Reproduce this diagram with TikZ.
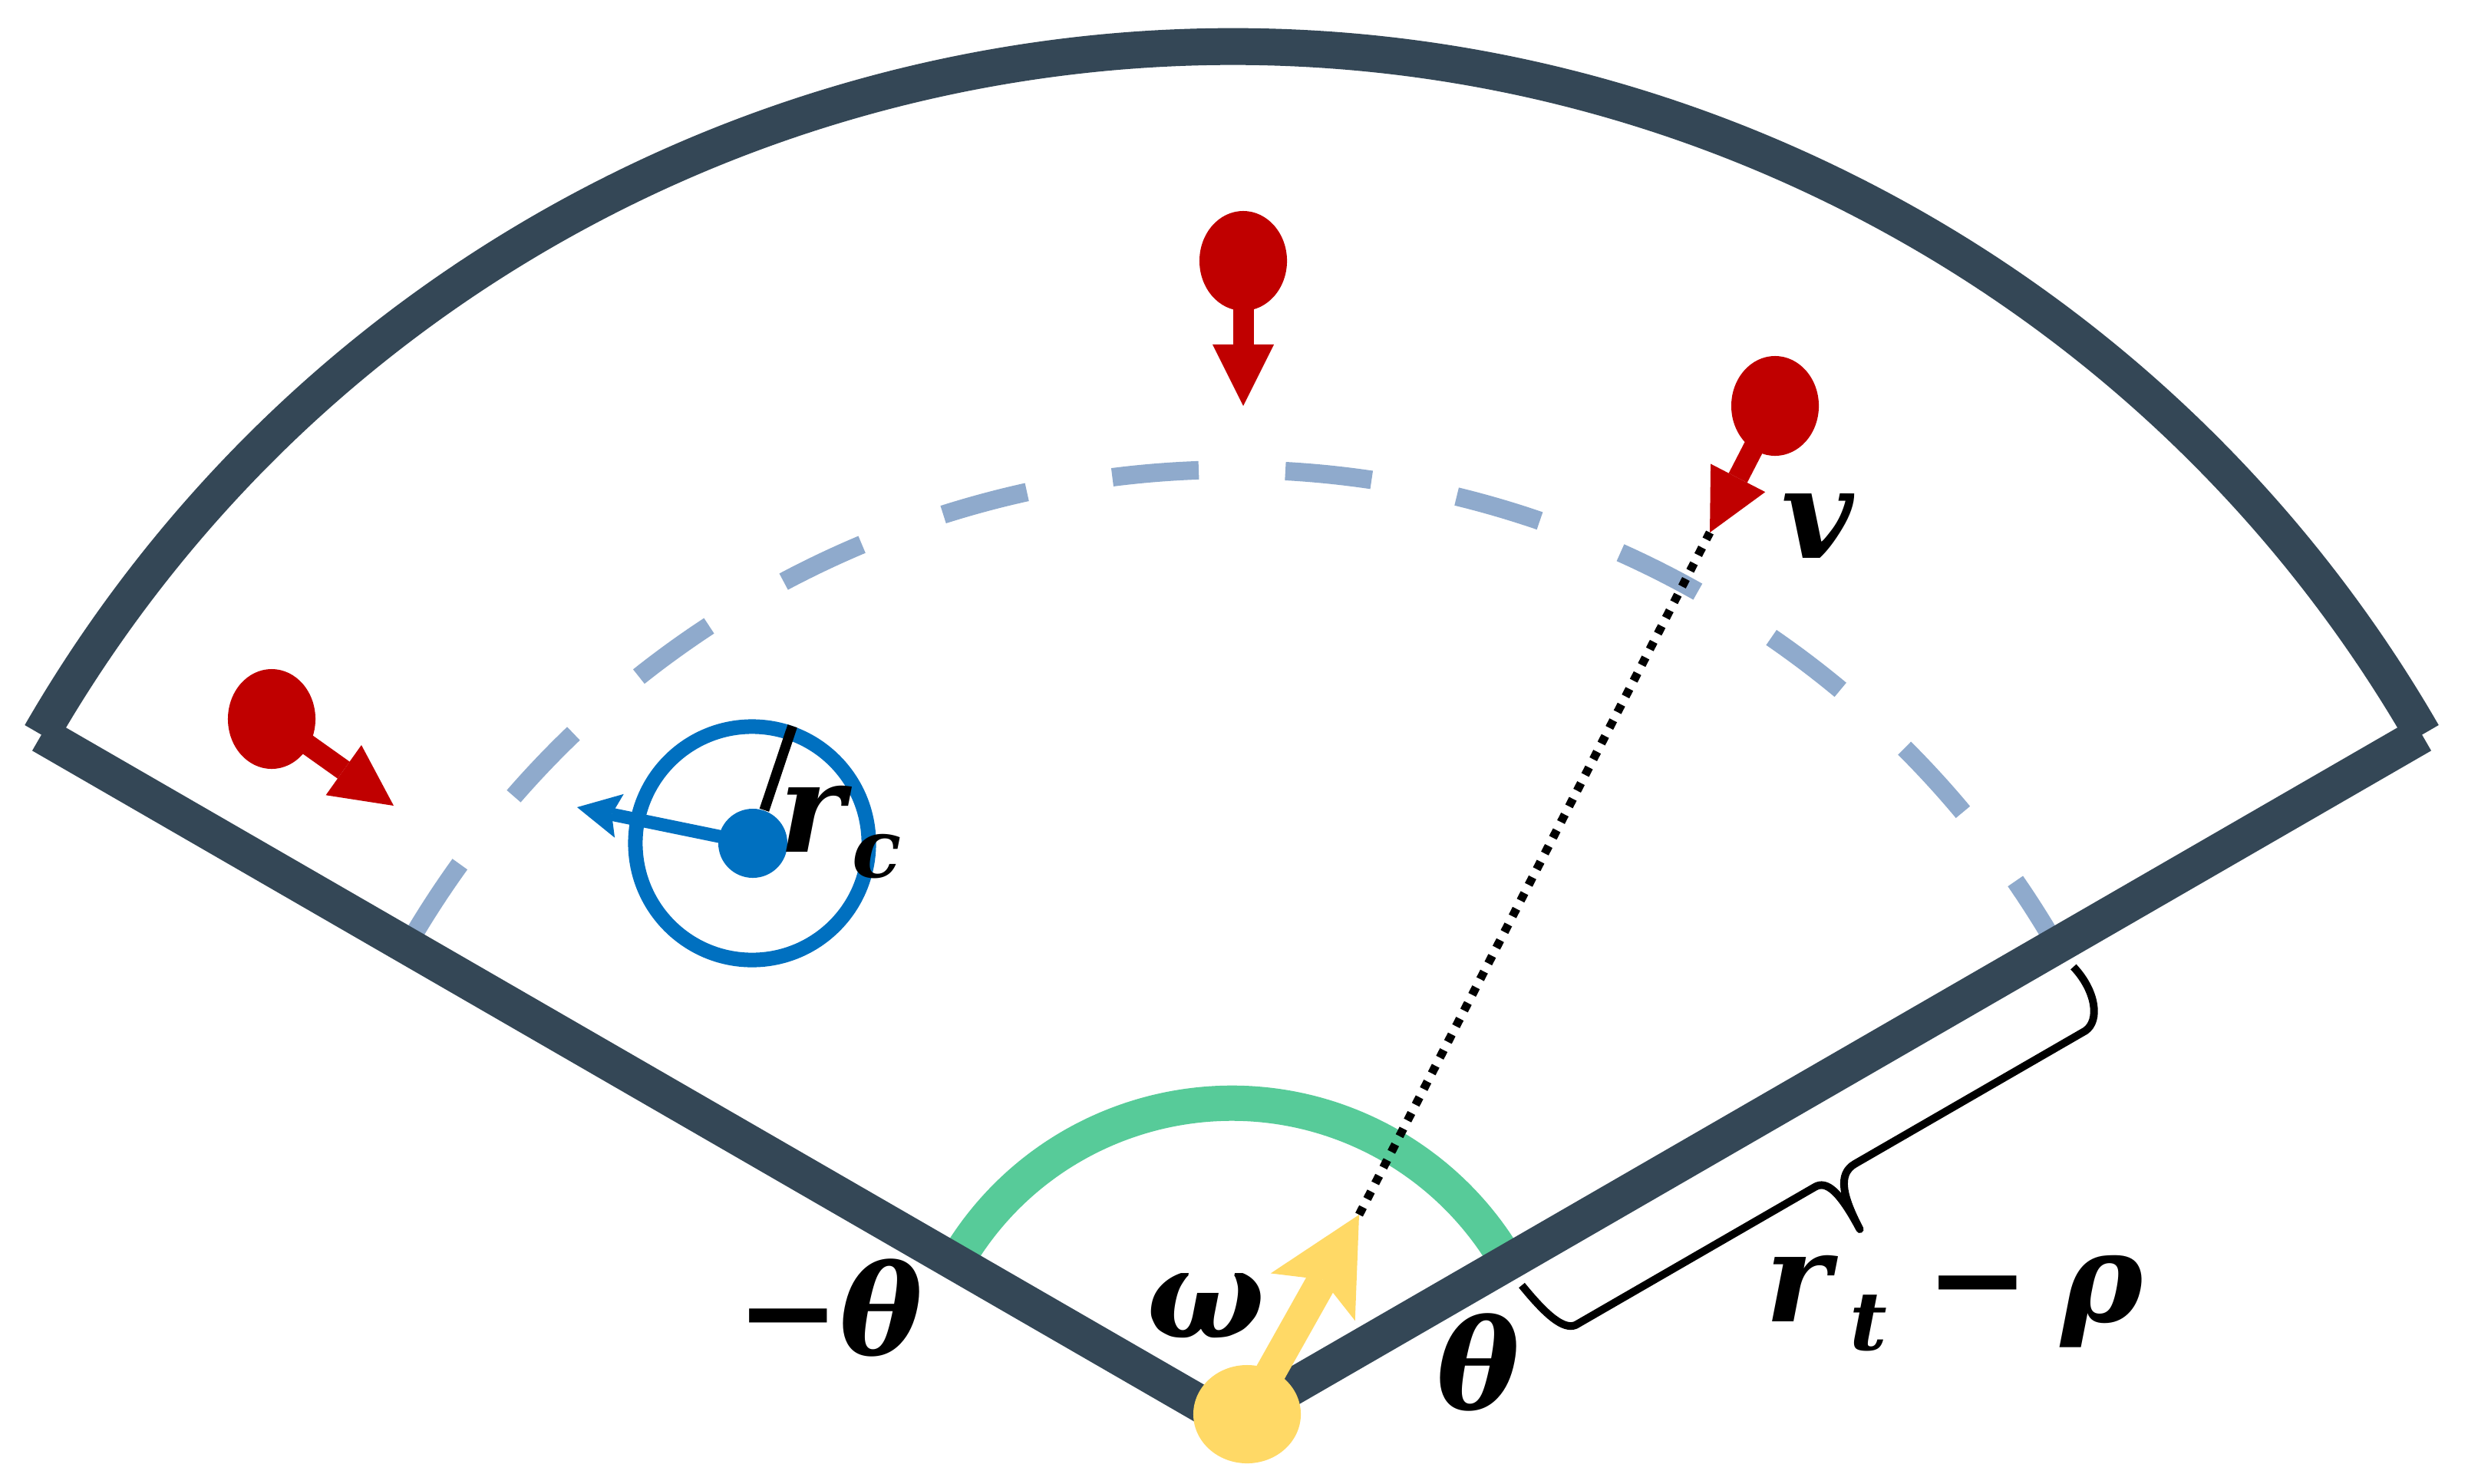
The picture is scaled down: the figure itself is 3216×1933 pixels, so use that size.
\documentclass[tikz,border=0pt]{standalone}
\usepackage{fontspec}
\usetikzlibrary{arrows.meta,shapes.geometric}
\newfontfamily\lblfont{DejaVu Serif}
\definecolor{edgecol}{HTML}{344756}
\definecolor{dashcol}{HTML}{8FAACC}
\definecolor{greencol}{HTML}{57CB99}
\definecolor{redcol}{HTML}{C00000}
\definecolor{bluecol}{HTML}{0070C0}
\definecolor{yelcol}{HTML}{FFD966}
\tikzset{
 edgeline/.style={draw=edgecol, line width=0.48cm, line cap=butt, line join=miter},
 dasharc/.style={draw=dashcol, line width=0.24cm, dash pattern=on 1.129cm off 1.129cm, dash phase=2.12cm},
 greenarc/.style={draw=greencol, line width=0.46cm},
 reddot/.style={ellipse, fill=redcol, minimum width=1.14cm, minimum height=1.30cm, inner sep=0pt},
 redarrow/.style={draw=redcol, line width=0.27cm, -{Triangle[length=0.8cm, width=0.8cm, line width=0pt]}},
 yeldot/.style={ellipse, fill=yelcol, minimum width=1.40cm, minimum height=1.28cm, inner sep=0pt},
 yelarrow/.style={draw=yelcol, line width=0.40cm, -{Stealth[length=1.23cm, width=1.26cm, inset=0.26cm, line width=0pt]}},
 bluering/.style={circle, draw=bluecol, line width=0.19cm, minimum size=3.04cm, inner sep=0pt},
 bluedot/.style={circle, fill=bluecol, minimum size=0.90cm, inner sep=0pt},
 bluearrow/.style={draw=bluecol, line width=0.17cm, -{Stealth[length=0.56cm, width=0.58cm, inset=0.10cm, line width=0pt]}},
 rcline/.style={draw=black, line width=0.13cm},
 dotline/.style={draw=black, line width=0.11cm, dash pattern=on 0.11cm off 0.12cm},
 bracepath/.style={draw=black, line width=0.10cm, line join=round},
 lbl/.style={font=\lblfont\bfseries\itshape\fontsize{46}{52}\selectfont, inner sep=0pt, text=black},
}
\begin{document}
\begin{tikzpicture}[x=0.01cm, y=-0.01cm]
\useasboundingbox (0,0) rectangle (3216,1933);
\coordinate (apex) at (1605,1853);
% dashed guide arc and green angle arc
\draw[dasharc] (apex) ++(150:12.40cm) arc[start angle=150, end angle=30, radius=12.40cm];
\draw[greenarc] (apex) ++(150:4.15cm) arc[start angle=150, end angle=30, radius=4.15cm];
% sector outline
\coordinate (lend) at (54,957.5);
\coordinate (rend) at (3156,957.5);
\draw[edgeline] (apex) ++(150:17.91cm) arc[start angle=150, end angle=30, radius=17.91cm];
\draw[edgeline] (lend) -- (apex) -- (rend);
% brace
\draw[bracepath] (1983,1675) .. controls (2014.9,1714.3) and (2037.6,1733.5) .. (2053.3,1726.8)
  -- (2365.1,1546.8) .. controls (2379.8,1538.3) and (2396.7,1551.6) .. (2423.5,1602)
  .. controls (2401.7,1560.3) and (2393.6,1530.3) .. (2417,1516.8)
  -- (2717.5,1343.3) .. controls (2736.5,1330) and (2731.4,1291.4) .. (2701.8,1260);
% blue agent
\node[bluering] (ring) at (980,1099) {};
\node[bluedot] (bdot) at (981,1099) {};
\coordinate (btip) at (752,1052);
\draw[bluearrow] (bdot.center) -- (btip);
\draw[rcline] (bdot.71.5) -- (ring.71.5);
% red obstacles
\node[reddot] (rd1) at (1620,340) {};
\coordinate (rt1) at (1620,529);
\draw[redarrow] (rd1.center) -- (rt1);
\node[reddot] (rd2) at (354,937) {};
\coordinate (rt2) at (513,1050);
\draw[redarrow] (rd2.center) -- (rt2);
\node[reddot] (rd3) at (2313,529) {};
\coordinate (rt3) at (2228,694);
\draw[redarrow] (rd3.center) -- (rt3);
% yellow robot
\coordinate (ytip) at (1771,1583);
\draw[dotline] (ytip) -- (rt3);
\node[yeldot] (yd) at (1625,1843) {};
\draw[yelarrow] (yd.center) -- (ytip);
% labels
\node[lbl, anchor=base] (lmt) at (1081,1765) {−θ};
\node[lbl, anchor=base] (lt) at (1926,1836) {θ};
\node[lbl, anchor=base] (lw) at (1571,1743) {ω};
\node[lbl, anchor=base] (lv) at (2368,727) {v};
\node[lbl, anchor=base west] (lrc) at (1015,1110) {r\hspace{0.1cm}\raisebox{-0.33cm}{\fontsize{30}{34}\selectfont c}};
\node[lbl, anchor=base west] (lrt) at (2300,1722) {r\hspace{0.25cm}\raisebox{-0.37cm}{\fontsize{30}{34}\selectfont t}\hspace{0.5cm}−\hspace{0.4cm}ρ};
\end{tikzpicture}
\end{document}
